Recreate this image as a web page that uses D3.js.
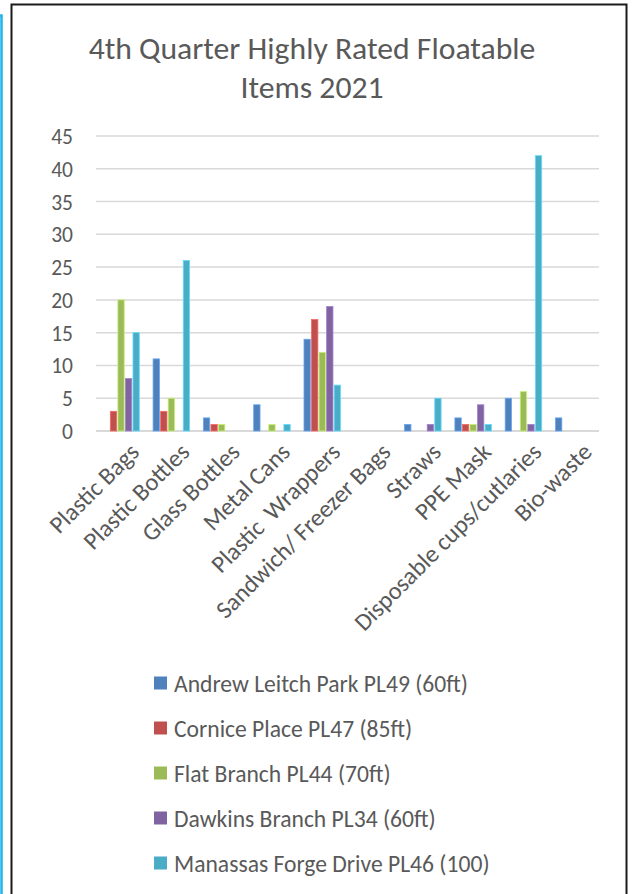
<!DOCTYPE html>
<html>
<head>
<meta charset="utf-8">
<script src="https://cdn.jsdelivr.net/npm/d3@7"></script>
<style>
  html, body { margin: 0; padding: 0; background: #fff; }
  svg { display: block; }
  text { font-family: Carlito, Lato, "Open Sans", sans-serif; fill: #595959; }
</style>
</head>
<body>
<script>
const categories = ["Plastic Bags", "Plastic Bottles", "Glass Bottles", "Metal Cans", "Plastic  Wrappers",
  "Sandwich/ Freezer Bags", "Straws", "PPE Mask", "Disposable cups/cutlaries", "Bio-waste"];
const seriesNames = ["Andrew Leitch Park PL49 (60ft)", "Cornice Place PL47 (85ft)", "Flat Branch PL44 (70ft)",
  "Dawkins Branch PL34 (60ft)", "Manassas Forge Drive PL46 (100)"];
const andrewLeitch = [0, 11, 2, 4, 14, 0, 1, 2, 5, 2];
const cornicePlace = [3, 3, 1, 0, 17, 0, 0, 1, 0, 0];
const flatBranch   = [20, 5, 1, 1, 12, 0, 0, 1, 6, 0];
const dawkins      = [8, 0, 0, 0, 19, 0, 1, 4, 1, 0];
const manassas     = [15, 26, 0, 1, 7, 0, 5, 1, 42, 0];
const yTicks = [0, 5, 10, 15, 20, 25, 30, 35, 40, 45];
const colors = ["#4F81BD", "#C0504D", "#9BBB59", "#8064A2", "#4BACC6"];
const titleLines = ["4th Quarter Highly Rated Floatable", "Items 2021"];

const seriesValues = [andrewLeitch, cornicePlace, flatBranch, dawkins, manassas];

const W = 632, H = 894;
const svg = d3.select("body").append("svg").attr("width", W).attr("height", H);

// outer decorations
svg.append("path").attr("d", "M0,15.5 H1.5 V894").attr("fill", "none")
  .attr("stroke", "#1fb4ea").attr("stroke-width", 2.5);
svg.append("path").attr("d", "M11.5,894 V4.5 H626.5 V894").attr("fill", "none")
  .attr("stroke", "#1a1a1a").attr("stroke-width", 2);

// title
svg.append("text").attr("x", 312).attr("text-anchor", "middle")
  .style("font-size", "31.7px")
  .selectAll("tspan").data(titleLines).join("tspan")
  .attr("x", 312).attr("y", (d, i) => 59 + i * 39).text(d => d);

const plot = { left: 96, right: 599, top: 136, bottom: 431 };
const x0 = d3.scaleBand().domain(categories).range([plot.left, plot.right])
  .paddingInner(0.25).paddingOuter(0.125);
const x1 = d3.scaleBand().domain(d3.range(seriesNames.length)).range([0, x0.bandwidth()]);
const y = d3.scaleLinear().domain([0, 45]).range([plot.bottom, plot.top]);

// gridlines
svg.append("g").selectAll("line").data(yTicks).join("line")
  .attr("x1", plot.left).attr("x2", plot.right)
  .attr("y1", d => y(d)).attr("y2", d => y(d))
  .attr("stroke", "#d9d9d9").attr("stroke-width", d => d === 0 ? 2 : 1.5);

// y axis labels
const yAxis = d3.axisLeft(y).tickValues(yTicks).tickSize(0).tickPadding(0);
const ya = svg.append("g").attr("transform", `translate(73,0)`).call(yAxis);
ya.select(".domain").remove();
ya.selectAll("text").style("font-size", "21.5px").attr("fill", "#595959")
  .style("font-family", "Carlito, Lato, 'Open Sans', sans-serif").attr("dy", "0.35em");

// bars
const data = [];
categories.forEach((c, ci) => seriesValues.forEach((vals, si) => data.push({ c, si, v: vals[ci] })));
svg.append("g").selectAll("rect").data(data.filter(d => d.v > 0)).join("rect")
  .attr("x", d => x0(d.c) + x1(d.si) + 0.5)
  .attr("y", d => y(d.v))
  .attr("width", x1.bandwidth() - 1.2)
  .attr("height", d => y(0) - y(d.v))
  .attr("fill", d => colors[d.si])
  .attr("stroke", d => d3.color(colors[d.si]).brighter(0.7))
  .attr("stroke-width", 0.8);

// x labels
const xa = svg.append("g");
xa.selectAll("text").data(categories).join("text")
  .attr("transform", d => `translate(${x0(d) + x0.bandwidth() / 2 + 7},441) rotate(-45)`)
  .attr("text-anchor", "end").attr("dy", "0.72em")
  .style("font-size", "24.5px").style("white-space", "pre")
  .text(d => d);

// legend
const lg = svg.append("g");
const rows = lg.selectAll("g").data(seriesNames).join("g")
  .attr("transform", (d, i) => `translate(154,${683 + i * 45})`);
rows.append("rect").attr("x", 0).attr("y", -6.5).attr("width", 13).attr("height", 13)
  .attr("fill", (d, i) => colors[i]);
rows.append("text").attr("x", 20).attr("dy", "0.36em").style("font-size", "23.6px").text(d => d);
</script>
</body>
</html>
